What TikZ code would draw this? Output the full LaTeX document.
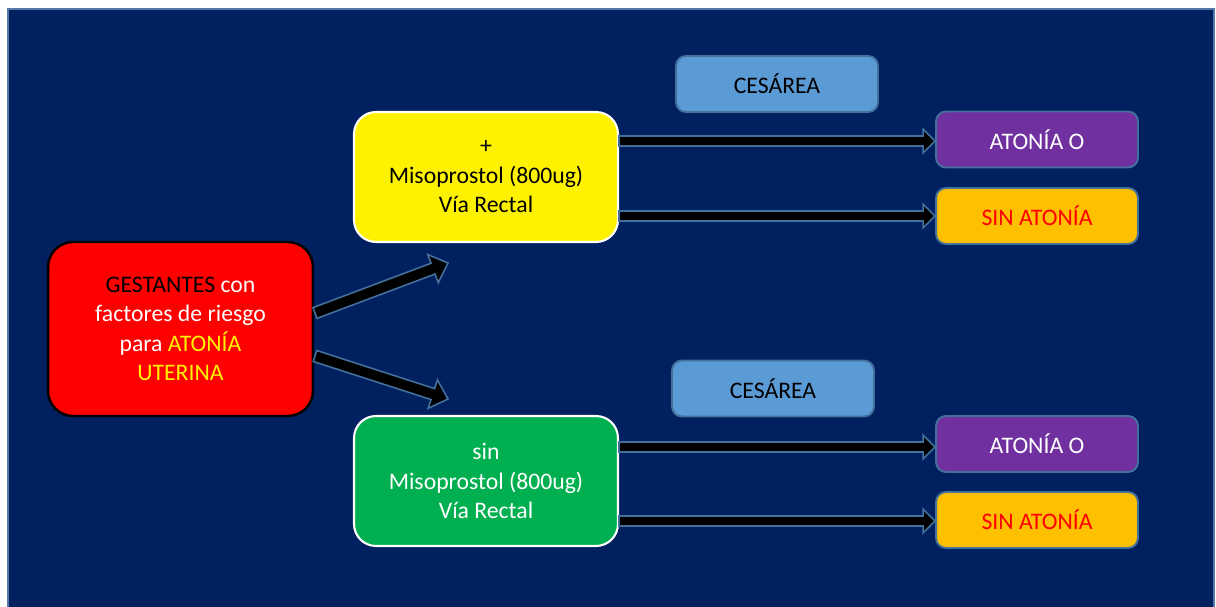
\documentclass[tikz,border=0pt]{standalone}
\usepackage{fontspec}
\setmainfont{Carlito}
\usepackage{tikz}
\usetikzlibrary{calc}
\definecolor{fondo}{RGB}{0,32,96}
\definecolor{marco}{RGB}{84,120,168}
\definecolor{borde}{RGB}{65,113,156}
\definecolor{cesarea}{RGB}{91,155,213}
\definecolor{morado}{RGB}{112,48,160}
\definecolor{naranja}{RGB}{255,192,0}
\definecolor{verde}{RGB}{0,176,80}
\tikzset{
  caja/.style={rectangle, align=center, font=\fontsize{13.5}{16.8}\selectfont, inner sep=2pt},
  grupo/.style={caja, draw=white, line width=1.2pt, rounded corners=0.44cm, minimum width=5.28cm, minimum height=2.6cm, text=white},
  resultado/.style={caja, draw=borde, line width=1.1pt, rounded corners=0.2cm, minimum width=4.04cm, minimum height=1.12cm},
  flecha/.style n args={3}{draw=borde, fill=black, line width=0.9pt, to path={
    ($(\tikztostart)!#1!-90:(\tikztotarget)$)
    -- ($(\tikztotarget)!#3!(\tikztostart)!#1!-90:(\tikztotarget)$)
    -- ($(\tikztotarget)!#3!(\tikztostart)!#2!-90:(\tikztotarget)$)
    -- (\tikztotarget)
    -- ($(\tikztotarget)!#3!(\tikztostart)!#2!90:(\tikztotarget)$)
    -- ($(\tikztotarget)!#3!(\tikztostart)!#1!90:(\tikztotarget)$)
    -- ($(\tikztostart)!#1!90:(\tikztotarget)$) -- cycle}}
}
\begin{document}
\begin{tikzpicture}[x=0.02cm, y=-0.02cm]
  \useasboundingbox (0,0) rectangle (1216,607);
  \draw[fill=fondo, draw=marco, line width=1.5pt] (8,9) rectangle (1214,640);
  \node[caja, fill=red, draw=black, line width=1.4pt, rounded corners=0.5cm, minimum width=5.3cm, minimum height=3.48cm, text=white] (rojo) at (180.5,329)
    {\textcolor{black}{GESTANTES} con\\factores de riesgo\\para \textcolor{yellow}{ATONÍA}\\\textcolor{yellow}{UTERINA}};
  \node[grupo, fill=yellow, text=black] (amarillo) at (486,177) {+\\Misoprostol (800ug)\\Vía Rectal};
  \node[grupo, fill=verde] (verde) at (486,481) {sin\\Misoprostol (800ug)\\Vía Rectal};
  \node[resultado, fill=cesarea] (ces1) at (777,84) {CESÁREA};
  \node[resultado, fill=cesarea] (ces2) at (773,388.5) {CESÁREA};
  \node[resultado, fill=morado, text=white] (ato1) at (1037,139.5) {ATONÍA O};
  \node[resultado, fill=naranja, text=red] (sin1) at (1037,216) {SIN ATONÍA};
  \node[resultado, fill=morado, text=white] (ato2) at (1037,444) {ATONÍA O};
  \node[resultado, fill=naranja, text=red] (sin2) at (1037,520) {SIN ATONÍA};
  \coordinate (a1) at (amarillo.east |- 0,141);
  \coordinate (a2) at (amarillo.east |- sin1.west);
  \coordinate (v1) at (verde.east |- 0,447);
  \coordinate (v2) at (verde.east |- 0,521);
  \coordinate (d1) at (315,313);
  \coordinate (t1) at (448,263);
  \coordinate (d2) at (315,356);
  \coordinate (t2) at (448,399);
  \draw[flecha={0.1cm}{0.24cm}{0.24cm}] (a1) to (ato1.west |- a1);
  \draw[flecha={0.1cm}{0.24cm}{0.24cm}] (a2) to (sin1.west);
  \draw[flecha={0.1cm}{0.24cm}{0.24cm}] (v1) to (ato2.west |- v1);
  \draw[flecha={0.1cm}{0.24cm}{0.24cm}] (v2) to (sin2.west |- v2);
  \draw[flecha={0.115cm}{0.3cm}{0.32cm}] (d1) to (t1);
  \draw[flecha={0.115cm}{0.3cm}{0.32cm}] (d2) to (t2);
\end{tikzpicture}
\end{document}
